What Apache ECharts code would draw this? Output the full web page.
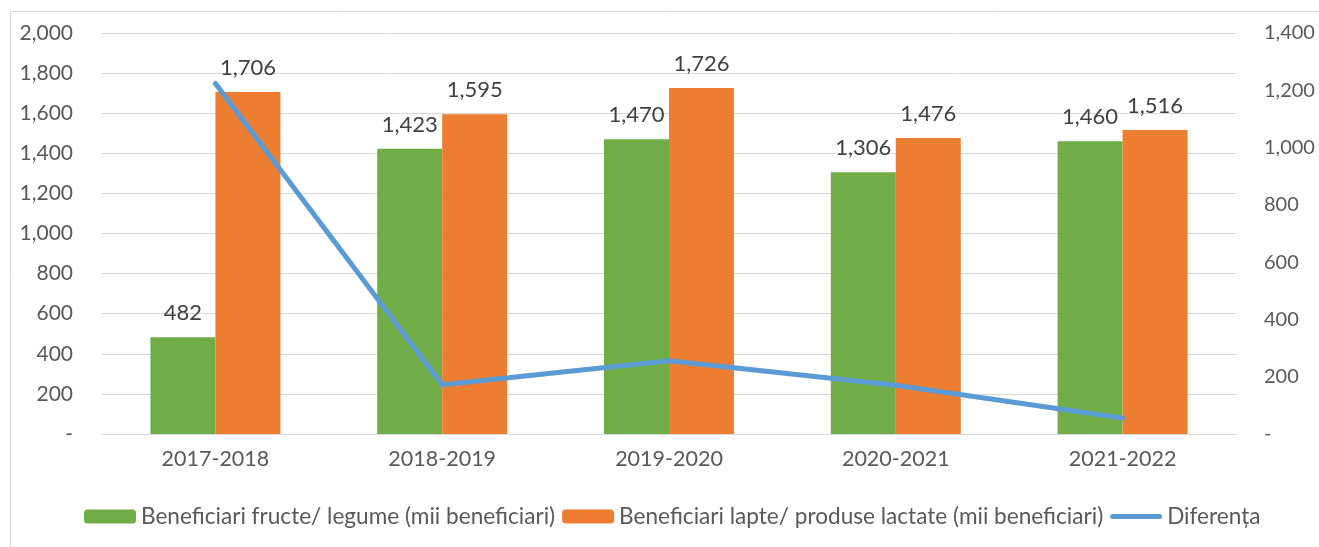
<!DOCTYPE html>
<html lang="ro">
<head>
    <meta charset="UTF-8">
    <title>Beneficiari</title>
    <script src="https://cdn.jsdelivr.net/npm/echarts@6/dist/echarts.min.js"></script>
    <style>
        html, body { margin: 0; padding: 0; background: #fff; }
        #chart { width: 1319px; height: 547px; }
    </style>
</head>
<body>
<div id="chart"></div>
<script type="text/javascript">
    // date
    var ani = ['2017-2018', '2018-2019', '2019-2020', '2020-2021', '2021-2022'];
    var fructeLegume = [482, 1423, 1470, 1306, 1460];
    var lapteLactate = [1706, 1595, 1726, 1476, 1516];
    var diferenta = [1224, 172, 256, 170, 56];

    var font = 'Lato, "Open Sans", sans-serif';
    var grey = '#595959';

    function fmt(v) {
        if (v === 0) return '-';
        return Number(v).toLocaleString('en-US');
    }

    var myChart = echarts.init(document.getElementById('chart'));
    myChart.setOption({
        animation: false,
        textStyle: { fontFamily: font },
        graphic: [{
            type: 'rect',
            shape: { x: 10.5, y: 11.5, width: 1400, height: 600 },
            style: { fill: 'none', stroke: '#d9d9d9', lineWidth: 1 },
            silent: true
        }],
        grid: {
            left: 102, right: 83, top: 33, bottom: 113,
            containLabel: false, outerBoundsMode: 'none'
        },
        legend: {
            bottom: 14,
            left: 79,
            itemWidth: 52,
            itemHeight: 14,
            itemGap: 7,
            textStyle: { fontSize: 22.6, color: grey, fontFamily: font },
            data: [
                { name: 'Beneficiari fructe/ legume (mii beneficiari)' },
                { name: 'Beneficiari lapte/ produse lactate (mii beneficiari)' },
                { name: 'Diferența', icon: 'path://M2.5,0 H49.5 A2.5,2.5 0 0 1 49.5,5 H2.5 A2.5,2.5 0 0 1 2.5,0 Z' }
            ]
        },
        xAxis: {
            type: 'category',
            data: ani,
            axisLine: { show: true, lineStyle: { color: '#d9d9d9', width: 1 } },
            axisTick: { show: false },
            axisLabel: { fontSize: 21.5, color: grey, margin: 14, fontFamily: font }
        },
        yAxis: [{
            type: 'value',
            min: 0,
            max: 2000,
            interval: 200,
            axisLine: { show: false },
            axisTick: { show: false },
            splitLine: { lineStyle: { color: '#d9d9d9', width: 1 } },
            axisLabel: { fontSize: 21, color: grey, margin: 29, formatter: fmt, fontFamily: font }
        }, {
            type: 'value',
            min: 0,
            max: 1400,
            interval: 200,
            axisLine: { show: false },
            axisTick: { show: false },
            splitLine: { show: false },
            axisLabel: { fontSize: 20, color: grey, margin: 28, formatter: fmt, fontFamily: font }
        }],
        series: [{
            name: 'Beneficiari fructe/ legume (mii beneficiari)',
            type: 'bar',
            data: fructeLegume,
            barWidth: 65,
            barGap: '0%',
            itemStyle: { color: '#70AD47' },
            label: {
                show: true, position: 'top', distance: 13,
                fontSize: 22, color: '#404040', fontFamily: font,
                formatter: function (p) { return fmt(p.value); }
            }
        }, {
            name: 'Beneficiari lapte/ produse lactate (mii beneficiari)',
            type: 'bar',
            data: lapteLactate,
            barWidth: 65,
            barGap: '0%',
            itemStyle: { color: '#ED7D31' },
            label: {
                show: true, position: 'top', distance: 13,
                fontSize: 22, color: '#404040', fontFamily: font,
                formatter: function (p) { return fmt(p.value); }
            }
        }, {
            name: 'Diferența',
            type: 'line',
            yAxisIndex: 1,
            data: diferenta,
            showSymbol: false,
            symbol: 'none',
            itemStyle: { color: '#5B9BD5' },
            lineStyle: { color: '#5B9BD5', width: 5, cap: 'round', join: 'round' },
            z: 5
        }]
    });
</script>
</body>
</html>
